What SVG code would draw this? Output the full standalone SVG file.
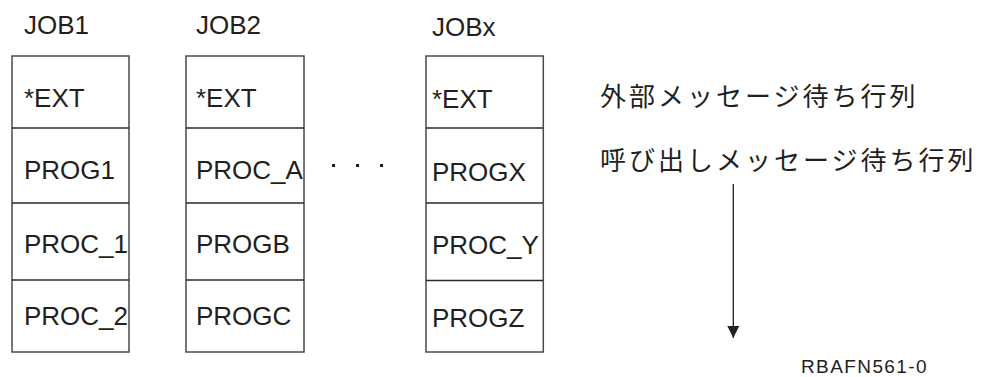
<svg xmlns="http://www.w3.org/2000/svg" width="981" height="377" viewBox="0 0 981 377">
<style>
.box{fill:#fff;stroke:#4a4a4a;stroke-width:1.5}
.div{stroke:#2a2a2a;stroke-width:1.3}
.t{font-family:"Liberation Sans",Arial,sans-serif;font-size:26px;fill:#231f20}
.jp{font-family:"Noto Sans CJK JP","Noto Sans",sans-serif;font-size:26px;letter-spacing:3px;fill:#231f20}
.id{font-family:"Liberation Sans",Arial,sans-serif;font-size:19px;letter-spacing:1.4px;fill:#231f20}
</style>
<defs>
<clipPath id="c1"><rect x="12" y="56" width="116.3" height="296"/></clipPath>
<clipPath id="c2"><rect x="186" y="56" width="117.3" height="296"/></clipPath>
<clipPath id="c3"><rect x="426" y="56" width="116.6" height="296"/></clipPath>
<marker id="ah" viewBox="0 0 12 12" markerWidth="12" markerHeight="12" refX="12" refY="6" orient="auto" markerUnits="userSpaceOnUse">
<path d="M0,0 L12,6 L0,12 Z" fill="#231f20"/>
</marker>
</defs>
<g id="job1">
<text class="t" x="24" y="34">JOB1</text>
<rect class="box" x="12" y="56" width="117" height="296"/>
<line class="div" x1="12" y1="128" x2="129" y2="128"/>
<line class="div" x1="12" y1="203" x2="129" y2="203"/>
<line class="div" x1="12" y1="280" x2="129" y2="280"/>
<g clip-path="url(#c1)">
<text class="t" x="24" y="107">*EXT</text>
<text class="t" x="24" y="179">PROG1</text>
<text class="t" x="24" y="253">PROC_1</text>
<text class="t" x="24" y="325">PROC_2</text>
</g>
</g>
<g id="job2">
<text class="t" x="196" y="34">JOB2</text>
<rect class="box" x="186" y="56" width="118" height="296"/>
<line class="div" x1="186" y1="128" x2="304" y2="128"/>
<line class="div" x1="186" y1="203" x2="304" y2="203"/>
<line class="div" x1="186" y1="280" x2="304" y2="280"/>
<g clip-path="url(#c2)">
<text class="t" x="196" y="107">*EXT</text>
<text class="t" x="196" y="179">PROC_A</text>
<text class="t" x="196" y="253">PROGB</text>
<text class="t" x="196" y="325">PROGC</text>
</g>
</g>
<g id="dots">
<rect x="332" y="164" width="3" height="3" fill="#231f20"/>
<rect x="356" y="164" width="3" height="3" fill="#231f20"/>
<rect x="380" y="164" width="3" height="3" fill="#231f20"/>
</g>
<g id="jobx">
<text class="t" x="432" y="36">JOBx</text>
<rect class="box" x="426" y="56" width="117.3" height="296"/>
<line class="div" x1="426" y1="128" x2="543" y2="128"/>
<line class="div" x1="426" y1="203" x2="543" y2="203"/>
<line class="div" x1="426" y1="280.5" x2="543" y2="280.5"/>
<g clip-path="url(#c3)">
<text class="t" x="432" y="108">*EXT</text>
<text class="t" x="432" y="181">PROGX</text>
<text class="t" x="432" y="254">PROC_Y</text>
<text class="t" x="432" y="327">PROGZ</text>
</g>
</g>
<g id="labels">
<text class="jp" x="600" y="106">外部メッセージ待ち行列</text>
<text class="jp" x="600" y="170">呼び出しメッセージ待ち行列</text>
</g>
<g id="connectors">
<line x1="733.3" y1="184" x2="733.3" y2="338" stroke="#231f20" stroke-width="1.3" marker-end="url(#ah)"/>
</g>
<text id="figid" class="id" x="801" y="373">RBAFN561-0</text>
</svg>
